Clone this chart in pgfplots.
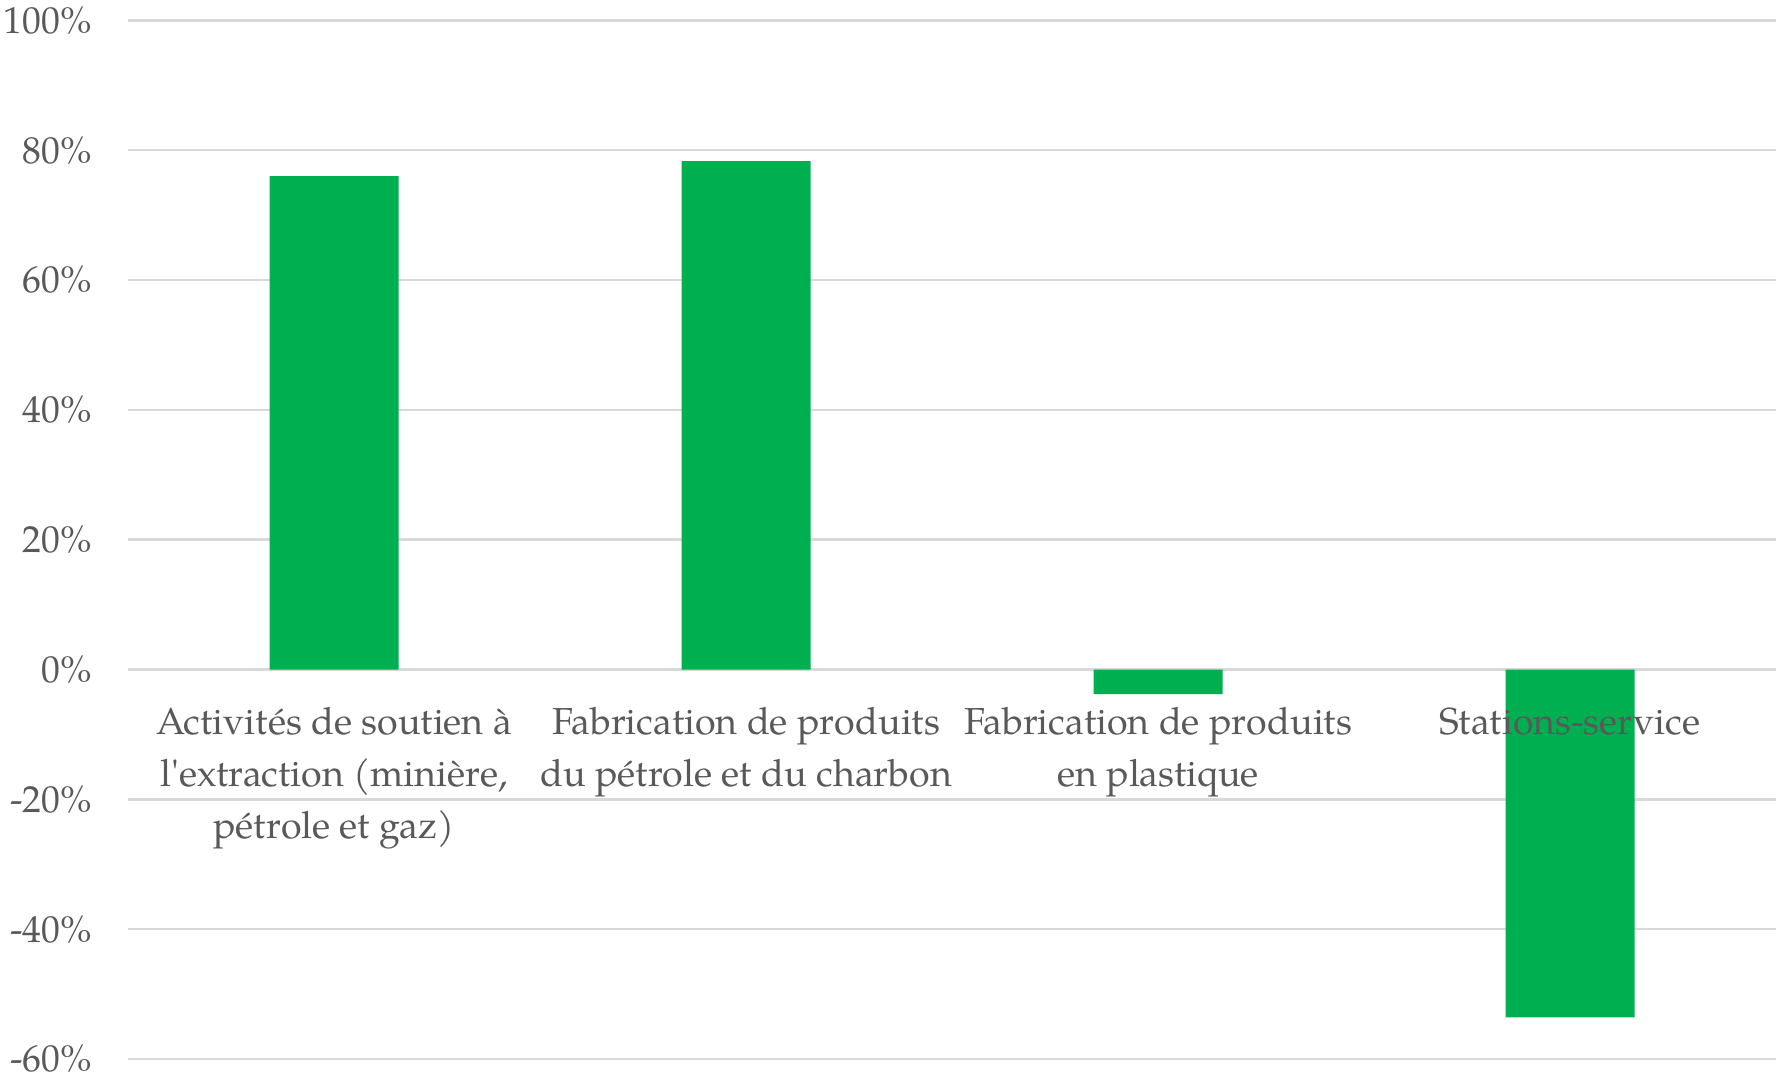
\documentclass[border=0pt]{standalone}
\usepackage{fontspec}
\setmainfont{TeX Gyre Pagella}[Ligatures=TeXOff]
\usepackage{pgfplots}
\pgfplotsset{compat=1.18}
\definecolor{bargreen}{RGB}{0,176,80}
\definecolor{txtgray}{RGB}{89,89,89}
\definecolor{gridgray}{RGB}{217,217,217}
\begin{document}
\begin{tikzpicture}
\begin{axis}[
  set layers,
  at={(32pt,5pt)}, anchor=south west,
  scale only axis, width=412pt, height=259.65pt,
  xmin=-0.5, xmax=3.5, ymin=-60, ymax=100,
  axis x line*=middle, axis y line*=left,
  axis line style={draw=none},
  major tick length=0pt,
  xtick=data,
  xticklabels={{Activités de soutien à\\l'extraction (minière,\\pétrole et gaz)},
               {Fabrication de produits\\du pétrole et du charbon},
               {Fabrication de produits\\en plastique},
               {Stations-service}},
  ytick={-60,-40,-20,0,20,40,60,80,100},
  yticklabels={-60\%,-40\%,-20\%,0\%,20\%,40\%,60\%,80\%,100\%},
  ymajorgrids, grid style={gridgray, line width=0.6pt},
  tick label style={font=\fontsize{9.4}{12.9}\selectfont, text=txtgray},
  xticklabel style={align=center, anchor=north, yshift=-6pt, /pgfplots/on layer=axis foreground},
  yticklabel style={anchor=east, xshift=-5.5pt},
  ybar, bar width=32.25pt,
]
\addplot[fill=bargreen, draw=none] coordinates {(0,76.0) (1,78.3) (2,-3.8) (3,-53.6)};
\end{axis}
\pgfresetboundingbox
\path (0,0) rectangle (444pt,269.75pt);
\end{tikzpicture}
\end{document}
